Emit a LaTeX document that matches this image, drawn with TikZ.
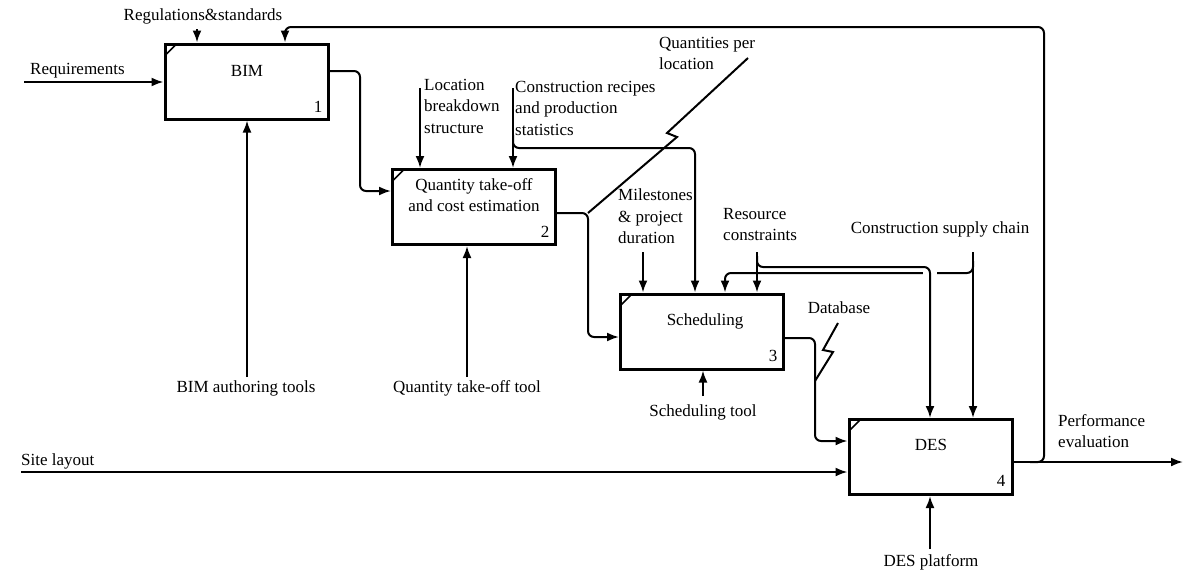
\documentclass[tikz,border=0pt]{standalone}
\usepackage{fontspec}
\setmainfont{Liberation Serif}
\usetikzlibrary{arrows.meta}
\begin{document}
\begin{tikzpicture}[x=1pt,y=-1pt,
  font=\fontsize{17}{21.5}\selectfont,
  box/.style={draw, line width=3pt, minimum width=163pt, minimum height=75pt, inner sep=0pt},
  tick/.style={line width=1.6pt},
  conn/.style={line width=2pt, rounded corners=6pt},
  arr/.style={conn, -{Latex[length=12pt,width=9pt]}},
  lbl/.style={inner sep=0pt, align=left, anchor=north west},
  ctr/.style={inner sep=0pt, align=center},
]
\useasboundingbox (0,0) rectangle (1187,570);

% activity boxes
\node[box] (bim) at (246.5,81.5) {};
\node[box] (qto) at (474,207) {};
\node[box] (sch) at (702,331.5) {};
\node[box] (des) at (930.5,457) {};
\foreach \b in {bim,qto,sch,des}
  \draw[tick] ([shift={(2.5pt,-12pt)}]\b.north west) -- ([shift={(12pt,-2.5pt)}]\b.north west);

% box titles and numbers
\node[ctr] (bimT) at (247,71) {BIM};
\node[ctr] (bimN) at (318,107) {1};
\node[ctr] (qtoT) at (474,195) {Quantity take-off\\and cost estimation};
\node[ctr] (qtoN) at (545,232) {2};
\node[ctr] (schT) at (705,321) {Scheduling};
\node[ctr] (schN) at (773,356) {3};
\node[ctr] (desT) at (931,445) {DES};
\node[ctr] (desN) at (1001,481) {4};

% labels
\node[lbl, anchor=west] (reqL) at (30,71) {Requirements};
\node[ctr] (regL) at (203,16) {Regulations\&standards};
\node[ctr] (bimtL) at (246,388) {BIM authoring tools};
\node[ctr] (qtotL) at (467,388) {Quantity take-off tool};
\node[lbl] (locL) at (424,79) {Location\\breakdown\\structure};
\node[lbl] (recL) at (515,81) {Construction recipes\\and production\\statistics};
\node[lbl] (qplL) at (659,37) {Quantities per\\location};
\node[lbl] (milL) at (618,189) {Milestones\\\& project\\duration};
\node[lbl] (resL) at (723,208) {Resource\\constraints};
\node[ctr] (supL) at (940,229) {Construction supply chain};
\node[ctr] (dbL) at (839,308) {Database};
\node[ctr] (schtL) at (703,412) {Scheduling tool};
\node[lbl, anchor=west] (siteL) at (21,461) {Site layout};
\node[lbl] (perfL) at (1058,414) {Performance\\evaluation};
\node[ctr] (despL) at (931,562) {DES platform};

% routing points
\coordinate (reqS) at (24,82);
\coordinate (regS) at (197,29);
\coordinate (bimOut) at (340,71);
\coordinate (b2q) at (360,191);
\coordinate (fbS) at (1030,462);
\coordinate (fbR) at (1044,27);
\coordinate (fbL) at (285,27);
\coordinate (desO) at (1183,462);
\coordinate (bimtS) at (247,377);
\coordinate (qtotS) at (467,377);
\coordinate (locS) at (420,88);
\coordinate (recS) at (513,88);
\coordinate (recB) at (513,135);
\coordinate (recC) at (695,148);
\coordinate (qtoOut) at (570,213);
\coordinate (q2s) at (588,337);
\coordinate (qpA) at (588,213);
\coordinate (qpB) at (677,137);
\coordinate (qpC) at (667,133);
\coordinate (qpD) at (748,58);
\coordinate (milS) at (643,252);
\coordinate (resS) at (757,252);
\coordinate (resB) at (757,256);
\coordinate (resC) at (930,267);
\coordinate (supS) at (973,252);
\coordinate (supB) at (973,261);
\coordinate (supC) at (725,273);
\coordinate (schOut) at (800,338);
\coordinate (s2d) at (815,441);
\coordinate (dbA) at (838,323);
\coordinate (dbB) at (823,350);
\coordinate (dbC) at (833,352);
\coordinate (dbD) at (815,381);
\coordinate (siteS) at (21,472);
\coordinate (schtS) at (703,396);
\coordinate (despS) at (930,549);

% connectors
\draw[arr] (reqS) -- (reqS -| bim.west);
\draw[arr] (regS) -- (regS |- bim.north);
\draw[arr] (bimOut -| bim.east) -| (b2q) -- (b2q -| qto.west);
\draw[arr] (fbS) -| (fbR) -- (fbL) -- (fbL |- bim.north);
\draw[arr] (desO -| des.east) -- (desO);
\draw[arr] (bimtS) -- (bimtS |- bim.south);
\draw[arr] (qtotS) -- (qtotS |- qto.south);
\draw[arr] (locS) -- (locS |- qto.north);
\draw[arr] (recS) -- (recS |- qto.north);
\draw[arr] (recB) |- (recC) -- (recC |- sch.north);
\draw[arr] (qtoOut -| qto.east) -| (q2s) -- (q2s -| sch.west);
\draw[conn, rounded corners=0pt] (qpA) -- (qpB) -- (qpC) -- (qpD);
\draw[arr] (milS) -- (milS |- sch.north);
\draw[arr] (resS) -- (resS |- sch.north);
\draw[arr] (supB) |- (supC) -- (supC |- sch.north);
\draw[white, line width=4pt] (923,273) -- (937,273);
\draw[arr] (resB) |- (resC) -- (resC |- des.north);
\draw[arr] (supS) -- (supS |- des.north);
\draw[arr] (schOut -| sch.east) -| (s2d) -- (s2d -| des.west);
\draw[conn, rounded corners=0pt] (dbA) -- (dbB) -- (dbC) -- (dbD);
\draw[arr] (siteS) -- (siteS -| des.west);
\draw[arr] (schtS) -- (schtS |- sch.south);
\draw[arr] (despS) -- (despS |- des.south);
\end{tikzpicture}
\end{document}
